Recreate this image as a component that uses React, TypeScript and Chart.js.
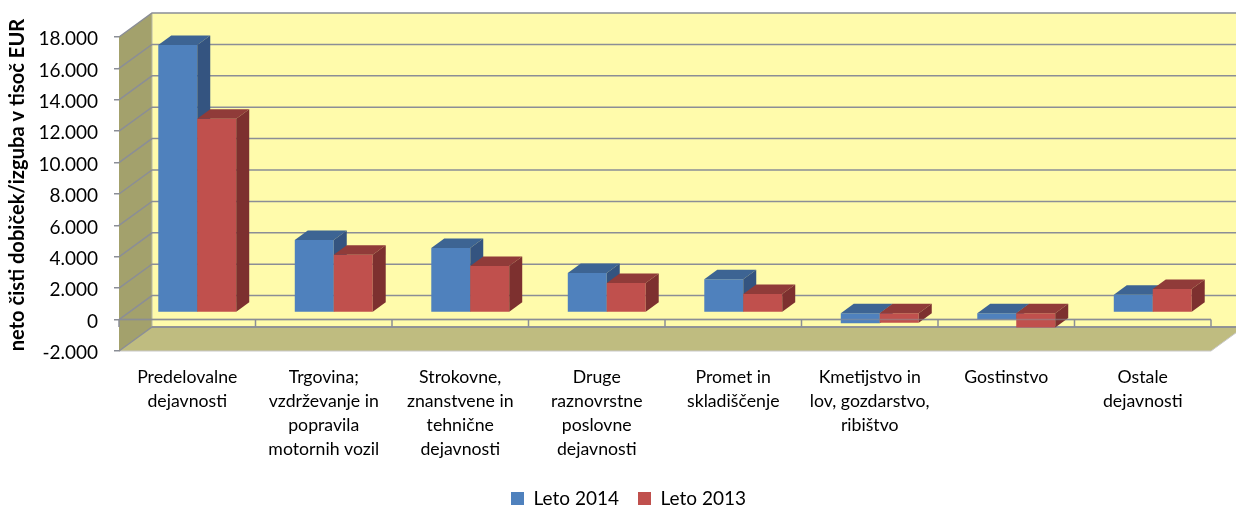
import React, { useEffect, useRef } from "react";
import { Chart, registerables } from "chart.js";

Chart.register(...registerables);

const categories = [
  ["Predelovalne", "dejavnosti"],
  ["Trgovina;", "vzdrževanje in", "popravila", "motornih vozil"],
  ["Strokovne,", "znanstvene in", "tehnične", "dejavnosti"],
  ["Druge", "raznovrstne", "poslovne", "dejavnosti"],
  ["Promet in", "skladiščenje"],
  ["Kmetijstvo in", "lov, gozdarstvo,", "ribištvo"],
  ["Gostinstvo"],
  ["Ostale", "dejavnosti"],
];
const leto2014 = [17050, 4630, 4120, 2530, 2120, -680, -420, 1130];
const leto2013 = [12340, 3680, 2975, 1885, 1185, -640, -950, 1510];

const FONT = "Lato, Carlito, sans-serif";
const GRID = "#8b8e96";
const WALL = { dx: 33, dy: -24 };
const BAR_OFF = { dx: 10, dy: -7 };
const BAR_DEPTH = { dx: 13, dy: -9.5 };
const SHADES = [
  { top: "#3d6493", side: "#345480" },
  { top: "#903b39", side: "#7d302f" },
];

function poly(ctx: CanvasRenderingContext2D, pts: number[][], fill: string) {
  ctx.beginPath();
  pts.forEach((p, i) => (i ? ctx.lineTo(p[0], p[1]) : ctx.moveTo(p[0], p[1])));
  ctx.closePath();
  ctx.fillStyle = fill;
  ctx.fill();
}

function line(ctx: CanvasRenderingContext2D, pts: number[][], color = GRID, w = 1.5) {
  ctx.beginPath();
  pts.forEach((p, i) => (i ? ctx.lineTo(p[0], p[1]) : ctx.moveTo(p[0], p[1])));
  ctx.strokeStyle = color;
  ctx.lineWidth = w;
  ctx.stroke();
}

const box3d = {
  id: "box3d",
  afterLayout(chart: any) {
    chart.legend.left += 23;
    chart.legend.right += 23;
    chart.legend.top = 470;
    chart.legend.bottom = 506;
    // keep the long last label lines out of the scale's label clip
    chart.scales.x.bottom += 15;
    // the axis title sits a little above the centre of the plot
    const y = chart.scales.y;
    const drawTitle = y.drawTitle;
    y.drawTitle = function () {
      chart.ctx.save();
      chart.ctx.translate(0, -9);
      drawTitle.call(y);
      chart.ctx.restore();
    };
  },
  beforeDatasetDraw() {
    return false;
  },
  beforeDatasetsDraw(chart: any) {
    const { ctx, chartArea: a, scales } = chart;
    const { dx, dy } = WALL;
    ctx.save();
    poly(ctx, [[a.left + dx, a.top + dy], [a.right + dx, a.top + dy], [a.right + dx, a.bottom + dy], [a.left + dx, a.bottom + dy]], "#fffbab");
    poly(ctx, [[a.left, a.top], [a.left + dx, a.top + dy], [a.left + dx, a.bottom + dy], [a.left, a.bottom]], "#a3a16c");
    poly(ctx, [[a.left, a.bottom], [a.left + dx, a.bottom + dy], [a.right + dx, a.bottom + dy], [a.right, a.bottom]], "#bfbc80");
    line(ctx, [[a.left, a.bottom], [a.right, a.bottom], [a.right + dx, a.bottom + dy]], "#c8c8c8", 1);
    line(ctx, [[a.left + dx, a.top + dy], [a.left + dx, a.bottom + dy]], "#b9b9a8", 1);
    for (const t of scales.y.ticks) {
      const y = scales.y.getPixelForValue(t.value);
      line(ctx, [[a.left, y], [a.left + dx, y + dy], [a.right + dx, y + dy]]);
    }
    ctx.restore();
  },
  afterDatasetsDraw(chart: any) {
    const { ctx, chartArea: a, scales } = chart;
    const y0 = scales.y.getPixelForValue(0);
    const back = a.bottom + WALL.dy;
    const step = (a.right - a.left) / categories.length;
    line(ctx, [[a.left + WALL.dx, back], [a.right + WALL.dx, back]]);
    line(ctx, [[a.left, y0], [a.right, y0]]);
    for (let i = 0; i <= categories.length; i++) {
      const x = a.left + i * step;
      line(ctx, [[x, y0], [x, back]]);
    }

    ctx.save();
    ctx.translate(BAR_OFF.dx, BAR_OFF.dy);
    const { dx, dy } = BAR_DEPTH;
    categories.forEach((_, i) => {
      [0, 1].forEach((d) => {
        const el = chart.getDatasetMeta(d).data[i];
        const { x, y, base, width } = el.getProps(["x", "y", "base", "width"], true);
        const l = x - width / 2;
        const r = x + width / 2;
        const t = Math.min(y, base);
        const b = Math.max(y, base);
        el.draw(ctx);
        poly(ctx, [[l, t], [l + dx, t + dy], [r + dx, t + dy], [r, t]], SHADES[d].top);
        poly(ctx, [[r, t], [r + dx, t + dy], [r + dx, b + dy], [r, b]], SHADES[d].side);
      });
    });
    ctx.restore();
    // the axis shows faintly through the negative bars
    ctx.save();
    ctx.globalAlpha = 0.55;
    line(ctx, [[a.left, y0], [a.right, y0]]);
    ctx.restore();
  },
};

export default function App() {
  const ref = useRef<HTMLCanvasElement>(null);
  useEffect(() => {
    const chart = new Chart(ref.current as HTMLCanvasElement, {
      type: "bar",
      data: {
        labels: categories as any,
        datasets: [
          { label: "Leto 2014", data: leto2014, backgroundColor: "#4f81bd" },
          { label: "Leto 2013", data: leto2013, backgroundColor: "#c0504d" },
        ],
      },
      options: {
        animation: false,
        responsive: false,
        devicePixelRatio: 1,
        layout: { padding: { left: 0, right: 25, top: 37, bottom: 0 } },
        datasets: { bar: { categoryPercentage: 0.571, barPercentage: 1 } },
        plugins: {
          tooltip: { enabled: false },
          legend: {
            position: "bottom",
            labels: {
              boxWidth: 13,
              boxHeight: 13,
              padding: 19,
              color: "#000",
              font: { family: FONT, size: 19 },
            },
          },
        },
        scales: {
          x: {
            grid: { display: false },
            border: { display: false },
            afterFit: (s: any) => {
              s.height = 107;
            },
            ticks: {
              autoSkip: false,
              maxRotation: 0,
              padding: 6,
              color: "#000",
              font: { family: FONT, size: 17.7, lineHeight: 1.36 },
            },
          },
          y: {
            min: -2000,
            max: 18000,
            afterFit: (s: any) => {
              s.width = 119;
            },
            grid: { drawOnChartArea: false, drawTicks: true, tickLength: 5, color: GRID, lineWidth: 1.5 },
            border: { display: true, color: "#b5b5b5", width: 1 },
            title: {
              display: true,
              text: "neto čisti dobiček/izguba v tisoč EUR",
              color: "#000",
              font: { family: FONT, size: 20.1, weight: "bold" },
              padding: { top: 5, bottom: 0 },
            },
            ticks: {
              stepSize: 2000,
              padding: 16,
              labelOffset: 2,
              color: "#000",
              font: { family: FONT, size: 19 },
              callback: (v: any) => String(v).replace(/\B(?=(\d{3})+$)/g, "."),
            },
          },
        },
      },
      plugins: [box3d],
    } as any);
    return () => chart.destroy();
  }, []);
  return (
    <div style={{ position: "fixed", left: 0, top: 0, width: 1236, height: 506, background: "#fff" }}>
      <canvas ref={ref} width={1236} height={506} style={{ display: "block" }} />
    </div>
  );
}
